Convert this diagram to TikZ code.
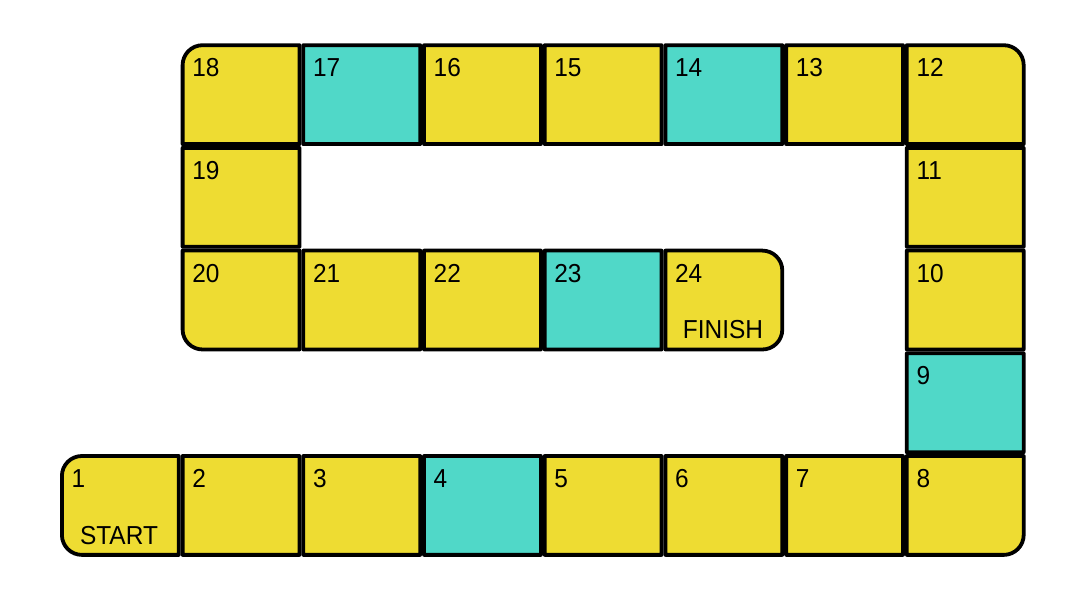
\documentclass[tikz,border=0pt]{standalone}
\usepackage{fontspec}
\setmainfont{Liberation Sans}[FakeStretch=0.94]
\definecolor{yel}{HTML}{EEDC32}
\definecolor{teal}{HTML}{50D8C8}
\tikzset{
  cellline/.style={draw=black, line width=3.8pt, line join=round},
  num/.style={inner sep=0pt, font=\fontsize{26}{29}\selectfont},
  tag/.style={inner sep=0pt, font=\fontsize{26}{29}\selectfont, anchor=base},
}
% #1 col, #2 row, #3 fill, #4 number, #5 tl, #6 tr, #7 br, #8 bl radius
\newcommand\bcell[8]{%
  \pgfmathsetmacro\cxa{60+#1*120.7+1.9}%
  \pgfmathsetmacro\cxb{60+(#1+1)*120.7-1.9}%
  \pgfmathsetmacro\cya{550.7-#2*102.7-1.9}%
  \pgfmathsetmacro\cyb{550.7-(#2+1)*102.7+1.9}%
  \filldraw[cellline, fill=#3] (\cxa+#5,\cya) -- (\cxb-#6,\cya)
     arc[start angle=90, end angle=0, radius=#6 pt] -- (\cxb,\cyb+#7)
     arc[start angle=0, end angle=-90, radius=#7 pt] -- (\cxa+#8,\cyb)
     arc[start angle=270, end angle=180, radius=#8 pt] -- (\cxa,\cya-#5)
     arc[start angle=180, end angle=90, radius=#5 pt] -- cycle;
  \node[num, anchor=base west] (n#4) at (\cxa+9.5,\cya-31.5) {#4};
}
\begin{document}
\begin{tikzpicture}[x=1pt,y=1pt]
\useasboundingbox (0,0) rectangle (1085,594);
\def\s{0.01}
\def\r{20}
% row 0
\bcell{1}{0}{yel}{18}{\r}{\s}{\s}{\s}
\bcell{2}{0}{teal}{17}{\s}{\s}{\s}{\s}
\bcell{3}{0}{yel}{16}{\s}{\s}{\s}{\s}
\bcell{4}{0}{yel}{15}{\s}{\s}{\s}{\s}
\bcell{5}{0}{teal}{14}{\s}{\s}{\s}{\s}
\bcell{6}{0}{yel}{13}{\s}{\s}{\s}{\s}
\bcell{7}{0}{yel}{12}{\s}{\r}{\s}{\s}
% row 1
\bcell{1}{1}{yel}{19}{\s}{\s}{\s}{\s}
\bcell{7}{1}{yel}{11}{\s}{\s}{\s}{\s}
% row 2
\bcell{1}{2}{yel}{20}{\s}{\s}{\s}{\r}
\bcell{2}{2}{yel}{21}{\s}{\s}{\s}{\s}
\bcell{3}{2}{yel}{22}{\s}{\s}{\s}{\s}
\bcell{4}{2}{teal}{23}{\s}{\s}{\s}{\s}
\bcell{5}{2}{yel}{24}{\s}{\r}{\r}{\s}
\bcell{7}{2}{yel}{10}{\s}{\s}{\s}{\s}
% row 3
\bcell{7}{3}{teal}{9}{\s}{\s}{\s}{\s}
% row 4
\bcell{0}{4}{yel}{1}{\r}{\s}{\s}{\r}
\bcell{1}{4}{yel}{2}{\s}{\s}{\s}{\s}
\bcell{2}{4}{yel}{3}{\s}{\s}{\s}{\s}
\bcell{3}{4}{teal}{4}{\s}{\s}{\s}{\s}
\bcell{4}{4}{yel}{5}{\s}{\s}{\s}{\s}
\bcell{5}{4}{yel}{6}{\s}{\s}{\s}{\s}
\bcell{6}{4}{yel}{7}{\s}{\s}{\s}{\s}
\bcell{7}{4}{yel}{8}{\s}{\s}{\r}{\s}
% tags
\node[tag] (start) at (119,49) {START};
\node[tag] (finish) at (723,255.3) {FINISH};
\end{tikzpicture}
\end{document}
